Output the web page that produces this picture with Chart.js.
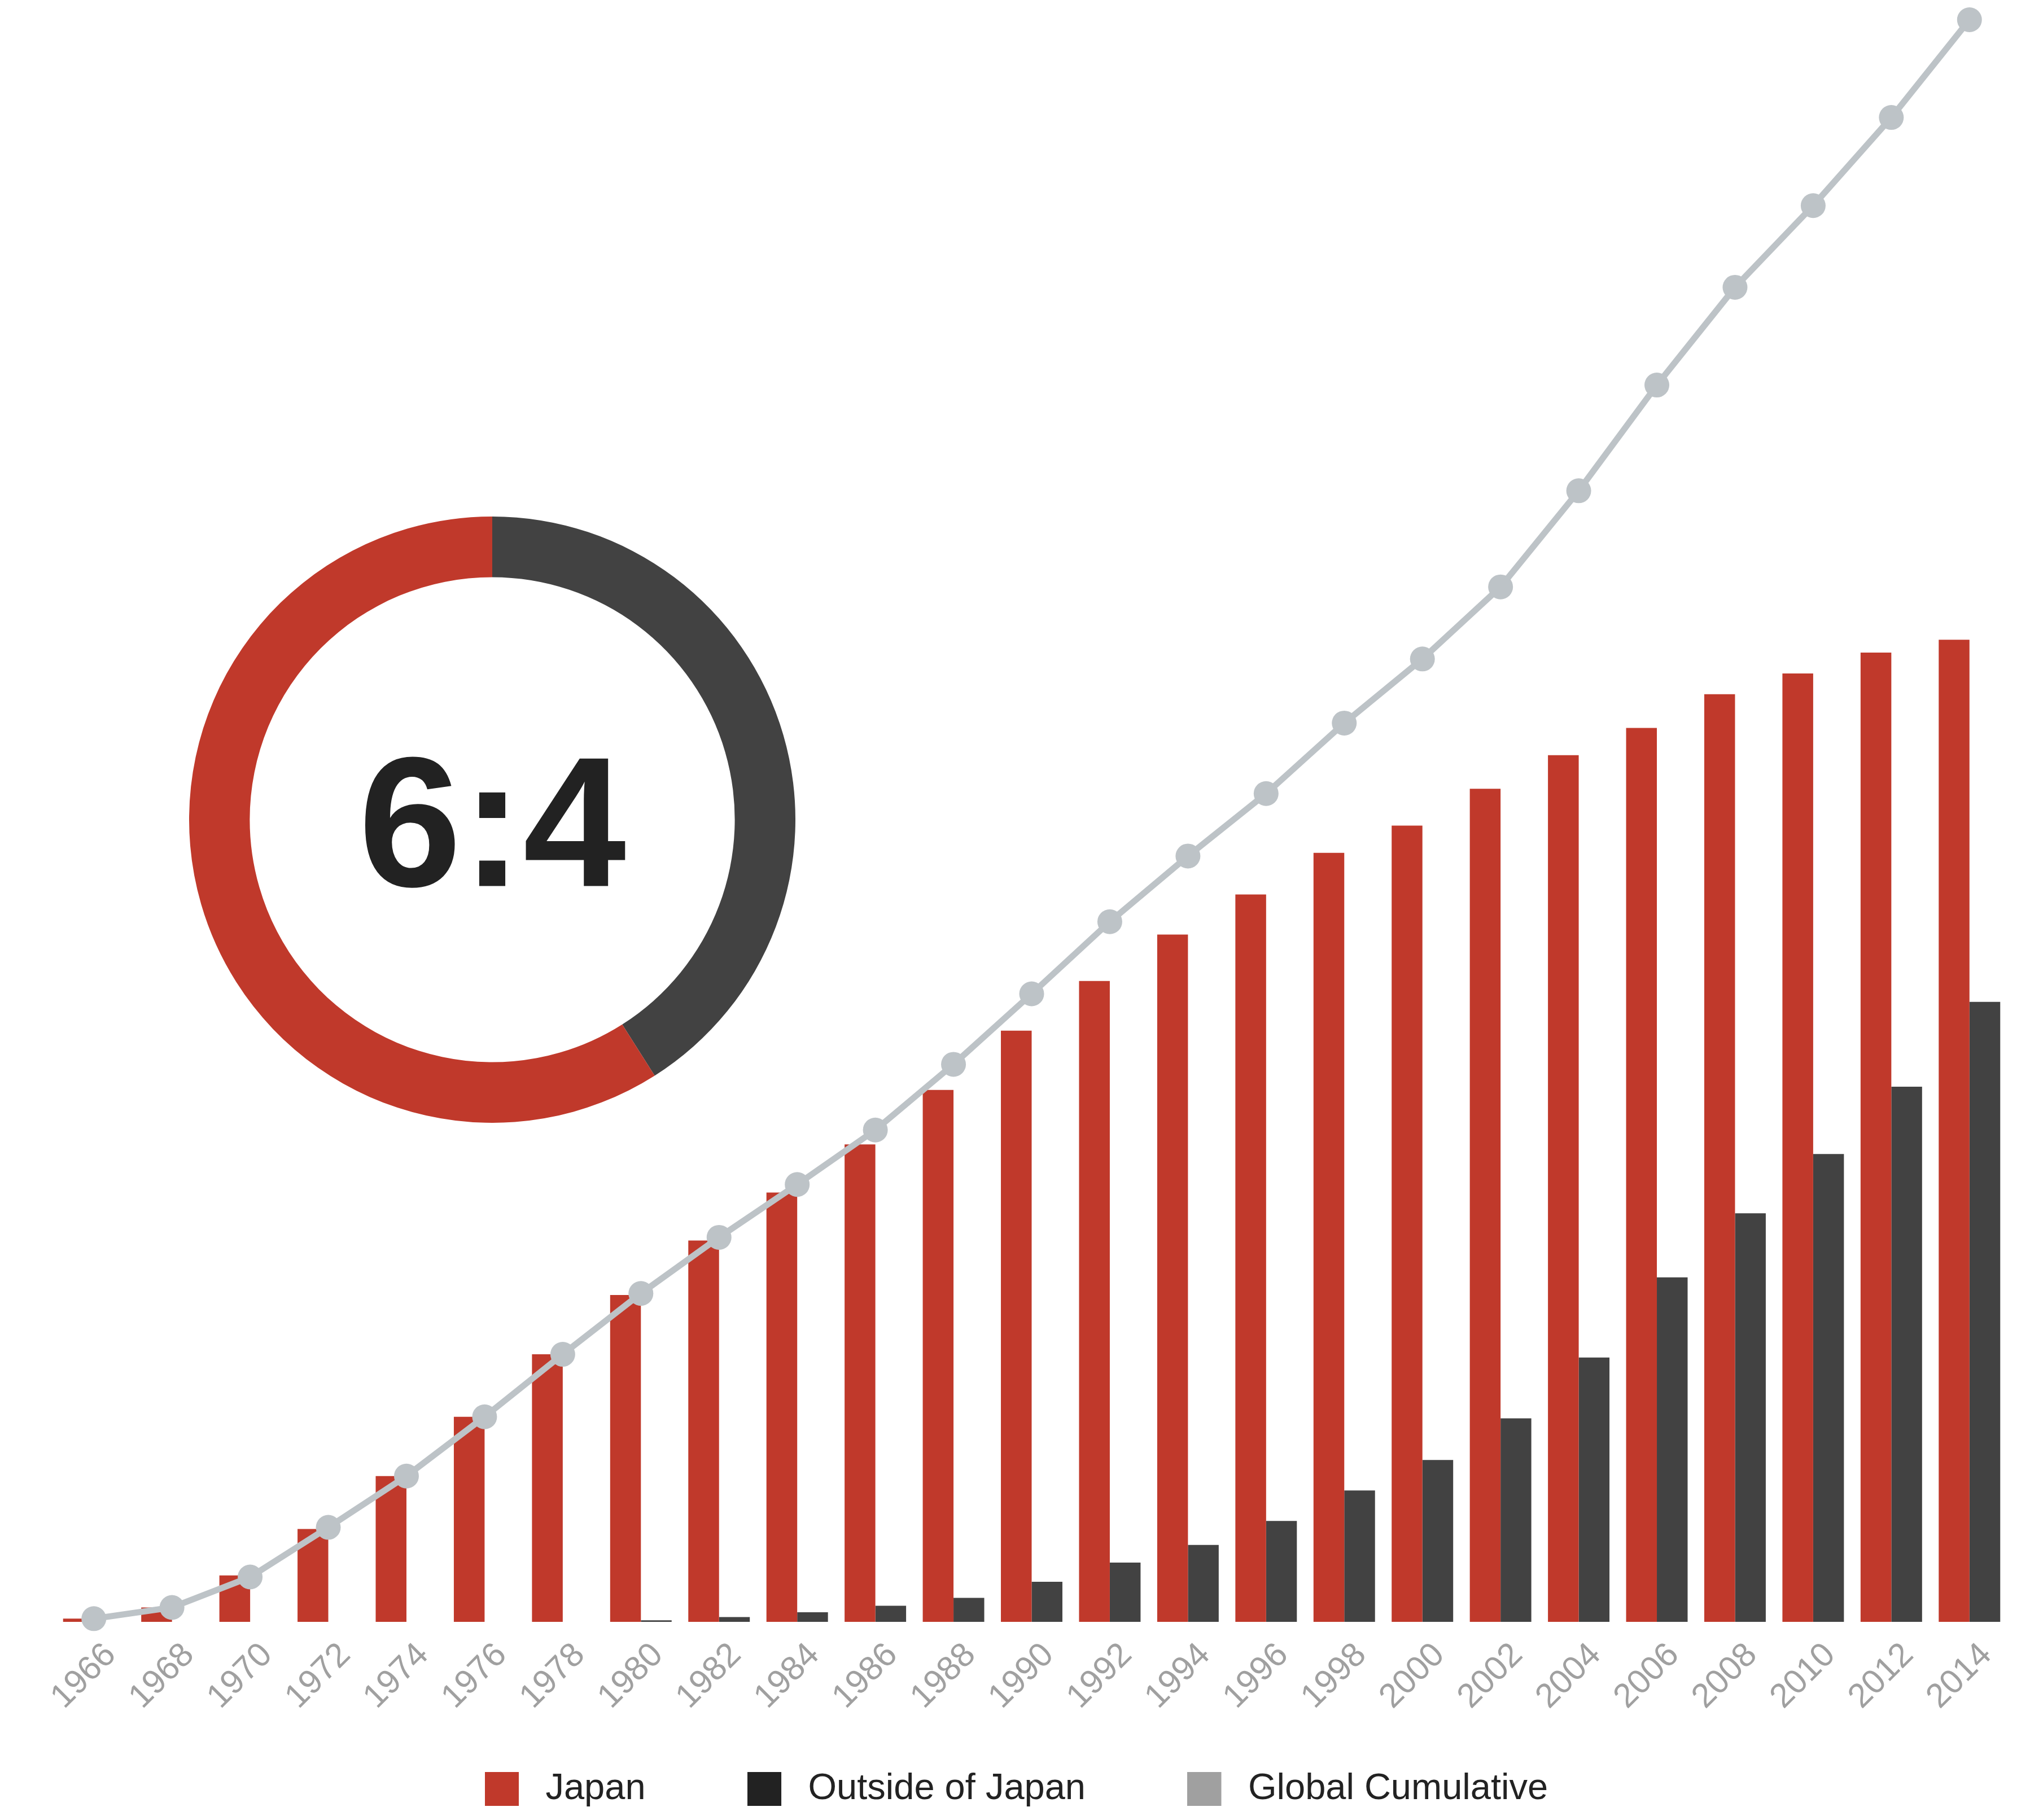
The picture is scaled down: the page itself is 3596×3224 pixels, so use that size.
<!DOCTYPE html>
<html>
<head>
<meta charset="utf-8">
<script src="https://cdn.jsdelivr.net/npm/chart.js@4.4.1/dist/chart.umd.min.js"></script>
<style>
  html, body { margin: 0; padding: 0; background: #ffffff; overflow: hidden; }
  #wrap { position: relative; width: 3596px; height: 3224px; }
  #main { position: absolute; left: 0; top: 0; }
  #donut { position: absolute; left: 335px; top: 915px; }
</style>
</head>
<body>
<div id="wrap">
  <canvas id="main" width="3596" height="3224"></canvas>
  <canvas id="donut" width="1074" height="1074"></canvas>
</div>
<script>
// ---- data ----
const years = ['1966','1968','1970','1972','1974','1976','1978','1980','1982','1984','1986','1988','1990',
               '1992','1994','1996','1998','2000','2002','2004','2006','2008','2010','2012','2014'];
const japan = [0.2, 0.9, 2.9, 5.8, 9.1, 12.8, 16.7, 20.4, 23.8, 26.8, 29.8, 33.2, 36.9,
               40.0, 42.9, 45.4, 48.0, 49.7, 52.0, 54.1, 55.8, 57.9, 59.2, 60.5, 61.3];
const outside = [0, 0, 0, 0, 0, 0, 0, 0.1, 0.3, 0.6, 1.0, 1.5, 2.5,
                 3.7, 4.8, 6.3, 8.2, 10.1, 12.7, 16.5, 21.5, 25.5, 29.2, 33.4, 38.7];
const globalCumulative = [0.2, 0.9, 2.8, 5.9, 9.1, 12.8, 16.7, 20.5, 24.0, 27.3, 30.7, 34.8, 39.2,
                          43.7, 47.8, 51.7, 56.1, 60.1, 64.6, 70.6, 77.2, 83.3, 88.4, 93.9, 100];
const legendLabels = ['Japan', 'Outside of Japan', 'Global Cumulative'];
const shareLabels = ['Outside of Japan', 'Japan'];
const shareValues = [41, 59];
const ratioText = '6:4';

// ---- styles ----
const RED = '#c0392b';
const DARK = '#424242';
const LINE = '#bdc3c7';
const legendColors = [RED, '#222222', '#a0a0a0'];
const FONT = '"Liberation Sans", Arial, Helvetica, sans-serif';

// legend swatch: 60x60 square followed by a little transparent space before the text
function makeSwatch(color) {
  const c = document.createElement('canvas');
  c.width = 75; c.height = 60;
  const g = c.getContext('2d');
  g.fillStyle = color;
  g.fillRect(0, 0, 60, 60);
  return c;
}
const swatches = legendColors.map(makeSwatch);

const legendFit = {
  id: 'legendFit',
  beforeLayout(chart) {
    const lg = chart.legend;
    if (lg && !lg._patchedFit) {
      const orig = lg.fit;
      lg.fit = function () { orig.call(this); this.height = 268; };
      lg._patchedFit = true;
    }
  },
  afterLayout(chart) {
    const lg = chart.legend;
    if (lg) { lg.left -= 27; lg.right -= 27; }
  }
};

new Chart(document.getElementById('main'), {
  type: 'bar',
  data: {
    labels: years,
    datasets: [
      {
        type: 'line',
        label: 'Global Cumulative',
        data: globalCumulative,
        borderColor: LINE,
        backgroundColor: LINE,
        borderWidth: 11,
        pointRadius: 22,
        pointHoverRadius: 22,
        pointBackgroundColor: LINE,
        pointBorderWidth: 0,
        tension: 0,
        clip: false,
        order: 0
      },
      {
        label: 'Japan',
        data: japan,
        backgroundColor: RED,
        borderWidth: 0,
        barPercentage: 1,
        categoryPercentage: 0.787,
        order: 1
      },
      {
        label: 'Outside of Japan',
        data: outside,
        backgroundColor: DARK,
        borderWidth: 0,
        barPercentage: 1,
        categoryPercentage: 0.787,
        order: 1
      }
    ]
  },
  options: {
    responsive: false,
    devicePixelRatio: 1,
    animation: false,
    layout: { padding: { top: 35, left: 97, right: 38, bottom: 0 } },
    scales: {
      x: {
        grid: { display: false, drawTicks: false },
        border: { display: false },
        ticks: {
          color: '#a0a0a0',
          font: { family: FONT, size: 60 },
          minRotation: 45,
          maxRotation: 45,
          autoSkip: false,
          padding: 24,
          labelOffset: 30
        },
        afterFit(scale) {
          scale.height = 83;
          scale._computeLabelArea = () => undefined;
        }
      },
      y: {
        display: false,
        min: 0,
        max: 100
      }
    },
    plugins: {
      tooltip: { enabled: false },
      legend: {
        position: 'bottom',
        labels: {
          usePointStyle: true,
          pointStyleWidth: 75,
          boxWidth: 60,
          boxHeight: 60,
          padding: 180.5,
          color: '#222222',
          font: { family: FONT, size: 65 },
          generateLabels: () => legendLabels.map((t, i) => ({
            text: t,
            fillStyle: legendColors[i],
            strokeStyle: legendColors[i],
            pointStyle: swatches[i],
            lineWidth: 0,
            hidden: false,
            fontColor: '#222222',
            datasetIndex: i
          }))
        }
      }
    }
  },
  plugins: [legendFit]
});

const centerText = {
  id: 'centerText',
  afterDraw(chart) {
    const arc = chart.getDatasetMeta(0).data[0];
    if (!arc) return;
    const size = 328;
    const ctx = chart.ctx;
    ctx.save();
    ctx.font = 'bold ' + size + 'px ' + FONT;
    ctx.fillStyle = '#222222';
    ctx.textAlign = 'center';
    ctx.textBaseline = 'alphabetic';
    ctx.fillText(ratioText, arc.x, arc.y + size * 0.358);
    ctx.restore();
  }
};

new Chart(document.getElementById('donut'), {
  type: 'doughnut',
  data: {
    labels: shareLabels,
    datasets: [{
      data: shareValues,
      backgroundColor: [DARK, RED],
      borderWidth: 0,
      hoverBorderWidth: 0,
      hoverOffset: 0
    }]
  },
  options: {
    responsive: false,
    devicePixelRatio: 1,
    animation: false,
    cutout: '80%',
    layout: { padding: 0 },
    plugins: { legend: { display: false }, tooltip: { enabled: false } }
  },
  plugins: [centerText]
});
</script>
</body>
</html>
